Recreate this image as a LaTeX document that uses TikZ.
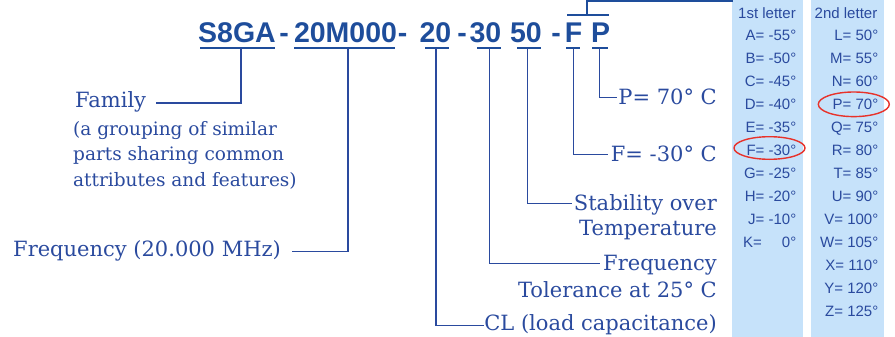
\documentclass[tikz,border=0pt]{standalone}
\usepackage{fontspec}
\setmainfont{DejaVu Serif}
\newfontfamily\codefont{Liberation Sans}
\newfontfamily\colfont{Liberation Sans}
\definecolor{codeblue}{HTML}{1E4D9B}
\definecolor{txtblue}{HTML}{2A4A9E}
\definecolor{colbg}{HTML}{C6E2FA}
\definecolor{markred}{HTML}{E8322A}
\begin{document}
\begin{tikzpicture}[x=1pt,y=-1pt,
  code/.style={anchor=base,inner sep=0pt,text=codeblue,font=\codefont\bfseries\fontsize{28.5}{30}\selectfont},
  lbl/.style={inner sep=0pt,text=txtblue,font=\fontsize{21}{25}\selectfont},
  sublbl/.style={inner sep=0pt,text=txtblue,align=left,font=\fontsize{18.5}{25.8}\selectfont},
  coltxt/.style={anchor=base east,inner sep=0pt,text=txtblue,font=\colfont\fontsize{15}{18}\selectfont},
  uline/.style={draw=codeblue,line width=1.3pt},
  conn/.style={draw=txtblue,line width=1.3pt},
  ring/.style={draw=markred,line width=1.4pt}]
\useasboundingbox (0,0) rectangle (895,337);
% columns
\fill[colbg] (732,0) rectangle (803,337);
\fill[colbg] (811,0) rectangle (884,337);
% code
\node[code] (c1) at (237,42.5) {S8GA};
\node[code] (d1) at (284,42.5) {-};
\node[code] (c2) at (345.5,42.5) {20M000};
\node[code] (d2) at (402.5,42.5) {-};
\node[code] (c3) at (435.5,42.5) {20};
\node[code] (d3) at (462,42.5) {-};
\node[code] (c4) at (485.5,42.5) {30};
\node[code] (c5) at (526,42.5) {50};
\node[code] (d4) at (556,42.5) {-};
\node[code] (c6) at (573.5,42.5) {F};
\node[code] (c7) at (600.5,42.5) {P};
% underlines
\draw[uline] (200,48) -- (275,48);
\draw[uline] (294,48) -- (395,48);
\draw[uline] (425,48) -- (449,48);
\draw[uline] (477,48) -- (501,48);
\draw[uline] (517,48) -- (541,48);
\draw[uline] (566,48) -- (580,48);
\draw[uline] (592,48) -- (608,48);
% top bracket over F P
\coordinate (bL) at (567,15);
\coordinate (bR) at (609,15);
\coordinate (bM) at (587,15);
\coordinate (bT) at (733,1);
\draw[uline] (bL) -- (bR);
\draw[uline] (bM) |- (bT);
% labels (multi-line nodes: base = baseline of last line)
\node[lbl,anchor=base west] (fam) at (75,107) {Family};
\node[sublbl,anchor=base west] (famsub) at (73,186.7) {(a grouping of similar\\parts sharing common\\attributes and features)};
\node[lbl,anchor=base west] (freq) at (13,256.7) {Frequency (20.000 MHz)};
\node[lbl,anchor=base east] (pl) at (717,105) {P= 70° C};
\node[lbl,anchor=base east] (fl) at (717,161) {F= -30° C};
\node[lbl,anchor=base east,align=right] (stab) at (717,235) {Stability over\\Temperature};
\node[lbl,anchor=base east,align=right,font=\fontsize{21}{26.6}\selectfont] (tol) at (717,297.3) {Frequency\\Tolerance at 25° C};
\node[lbl,anchor=base east] (cl) at (717,330.5) {CL (load capacitance)};
% connector points
\coordinate (u1) at (241,48);   \coordinate (e1) at (156,103);
\coordinate (u2) at (348,48);   \coordinate (e2) at (292,251.7);
\coordinate (u3) at (436,48);   \coordinate (e3) at (483.5,325.7);
\coordinate (u4) at (489.5,48); \coordinate (e4) at (600,263.3);
\coordinate (u5) at (527.5,48); \coordinate (e5) at (571.7,203.3);
\coordinate (u6) at (573.3,48); \coordinate (e6) at (608.3,154.3);
\coordinate (u7) at (599.8,48); \coordinate (e7) at (616.7,97.7);
\draw[conn] (u1) |- (e1);
\draw[conn] (u2) |- (e2);
\draw[conn] (u3) |- (e3);
\draw[conn] (u4) |- (e4);
\draw[conn] (u5) |- (e5);
\draw[conn] (u6) |- (e6);
\draw[conn] (u7) |- (e7);
% column texts
\node[coltxt,anchor=base] (h1) at (767,18.5) {1st letter};
\node[coltxt,anchor=base] (h2) at (846,18.5) {2nd letter};
\foreach \t [count=\i from 0] in {A= -55°,B= -50°,C= -45°,D= -40°,E= -35°,F= -30°,G= -25°,H= -20°,J= -10°,K=\hspace{20pt}0°}
  \node[coltxt] (a\i) at (796.5,40.7+23*\i) {\t};
\foreach \t [count=\i from 0] in {L= 50°,M= 55°,N= 60°,P= 70°,Q= 75°,R= 80°,T= 85°,U= 90°,V= 100°,W= 105°,X= 110°,Y= 120°,Z= 125°}
  \node[coltxt] (b\i) at (878.5,40.7+23*\i) {\t};
% red rings
\draw[ring] (769.5,148) ellipse [x radius=35.5, y radius=11.3];
\draw[ring] (853.8,104.3) ellipse [x radius=35.5, y radius=12.3];
\end{tikzpicture}
\end{document}
